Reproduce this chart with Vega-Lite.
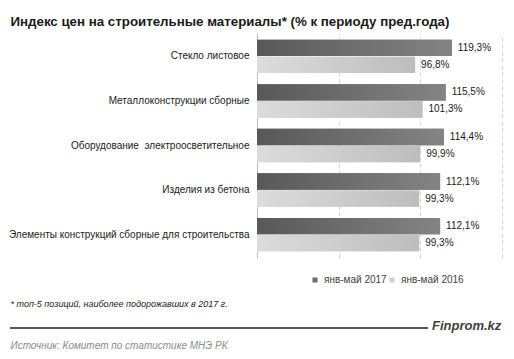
{
  "$schema": "https://vega.github.io/schema/vega-lite/v6.json",
  "width": 245,
  "height": 225,
  "autosize": {"type": "none"},
  "padding": {"left": 257, "top": 33, "right": 12, "bottom": 101},
  "background": "white",
  "title": {
    "text": "Индекс цен на строительные материалы* (% к периоду пред.года)",
    "anchor": "start",
    "frame": "bounds",
    "font": "Liberation Sans",
    "fontSize": 13.3,
    "fontWeight": "bold",
    "color": "#1a1a1a",
    "baseline": "alphabetic",
    "offset": 12,
    "dy": 18,
    "dx": 2
  },
  "config": {"view": {"stroke": null}},
  "data": {
    "values": [
      {"cat": "Стекло листовое", "period": "янв-май 2017", "value": 119.3, "label": "119,3%"},
      {"cat": "Стекло листовое", "period": "янв-май 2016", "value": 96.8, "label": "96,8%"},
      {"cat": "Металлоконструкции сборные", "period": "янв-май 2017", "value": 115.5, "label": "115,5%"},
      {"cat": "Металлоконструкции сборные", "period": "янв-май 2016", "value": 101.3, "label": "101,3%"},
      {"cat": "Оборудование \u00a0электроосветительное", "period": "янв-май 2017", "value": 114.4, "label": "114,4%"},
      {"cat": "Оборудование \u00a0электроосветительное", "period": "янв-май 2016", "value": 99.9, "label": "99,9%"},
      {"cat": "Изделия из бетона", "period": "янв-май 2017", "value": 112.1, "label": "112,1%"},
      {"cat": "Изделия из бетона", "period": "янв-май 2016", "value": 99.3, "label": "99,3%"},
      {"cat": "Элементы конструкций сборные для строительства", "period": "янв-май 2017", "value": 112.1, "label": "112,1%"},
      {"cat": "Элементы конструкций сборные для строительства", "period": "янв-май 2016", "value": 99.3, "label": "99,3%"}
    ]
  },
  "encoding": {
    "y": {
      "field": "cat",
      "type": "nominal",
      "sort": null,
      "scale": {"paddingInner": 0.25, "paddingOuter": 0.15},
      "axis": {
        "title": "Источник:  Комитет по статистике МНЭ РК",
        "titleAngle": 0,
        "titleX": -247,
        "titleY": 312,
        "titleAlign": "left",
        "titleBaseline": "middle",
        "titleFont": "Liberation Sans",
        "titleFontSize": 10,
        "titleFontStyle": "italic",
        "titleFontWeight": "normal",
        "titleColor": "#8c8c8c",
        "labelFont": "Liberation Sans",
        "labelFontSize": 10,
        "labelColor": "#1a1a1a",
        "labelPadding": 8,
        "labelLimit": 300,
        "ticks": false,
        "domain": true,
        "domainColor": "#bfbfbf",
        "grid": false
      }
    },
    "yOffset": {
      "field": "period",
      "type": "nominal",
      "sort": ["янв-май 2017", "янв-май 2016"],
      "scale": {"paddingInner": 0.04}
    }
  },
  "layer": [
    {
      "mark": {"type": "bar"},
      "encoding": {
        "x": {
          "field": "value",
          "type": "quantitative",
          "scale": {"domain": [0, 150], "nice": false},
          "axis": {
            "values": [50, 100, 150],
            "labels": false,
            "ticks": false,
            "domain": false,
            "grid": true,
            "gridColor": "#d6d6d6",
            "gridDash": [4, 3],
            "title": "* топ-5 позиций, наиболее подорожавших в 2017 г.",
            "titleX": -247,
            "titleY": 45,
            "titleAlign": "left",
            "titleAnchor": "start",
            "titleBaseline": "middle",
            "titleFont": "Liberation Sans",
            "titleFontSize": 9,
            "titleFontStyle": "italic",
            "titleFontWeight": "normal",
            "titleColor": "#1a1a1a"
          }
        },
        "color": {
          "field": "period",
          "type": "nominal",
          "sort": ["янв-май 2017", "янв-май 2016"],
          "scale": {"range": ["#6b6b6b", "#d0d0d0"]},
          "legend": {
            "orient": "none",
            "legendX": 53,
            "legendY": 242,
            "direction": "horizontal",
            "title": null,
            "symbolType": "square",
            "symbolSize": 25,
            "labelFont": "Liberation Sans",
            "labelFontSize": 10,
            "labelColor": "#404040",
            "columnPadding": 0,
            "labelOffset": 4
          }
        }
      }
    },
    {
      "transform": [{"filter": "datum.period === 'янв-май 2017'"}],
      "mark": {
        "type": "bar",
        "fill": {
          "gradient": "linear",
          "stops": [
            {"offset": 0, "color": "#585858"},
            {"offset": 1, "color": "#848484"}
          ]
        }
      },
      "encoding": {"x": {"field": "value", "type": "quantitative"}}
    },
    {
      "transform": [{"filter": "datum.period === 'янв-май 2016'"}],
      "mark": {
        "type": "bar",
        "fill": {
          "gradient": "linear",
          "stops": [
            {"offset": 0, "color": "#dcdcdc"},
            {"offset": 1, "color": "#bdbdbd"}
          ]
        }
      },
      "encoding": {"x": {"field": "value", "type": "quantitative"}}
    },
    {
      "mark": {
        "type": "text",
        "align": "left",
        "baseline": "middle",
        "dx": 6,
        "font": "Liberation Sans",
        "fontSize": 10,
        "color": "#1a1a1a"
      },
      "encoding": {
        "x": {"field": "value", "type": "quantitative"},
        "text": {"field": "label"}
      }
    },
    {
      "data": {"values": [{"brand": "Finprom.kz"}]},
      "mark": {"type": "rule", "color": "#595959", "strokeWidth": 2},
      "encoding": {
        "x": {"value": -247},
        "x2": {"value": 171},
        "y": {"value": 295},
        "yOffset": null
      }
    },
    {
      "data": {"values": [{"brand": "Finprom.kz"}]},
      "mark": {
        "type": "text",
        "align": "left",
        "baseline": "alphabetic",
        "font": "Liberation Sans",
        "fontSize": 13,
        "fontStyle": "italic",
        "fontWeight": "bold",
        "color": "#404040"
      },
      "encoding": {
        "x": {"value": 175},
        "y": {"value": 297},
        "text": {"field": "brand"},
        "yOffset": null
      }
    }
  ]
}
